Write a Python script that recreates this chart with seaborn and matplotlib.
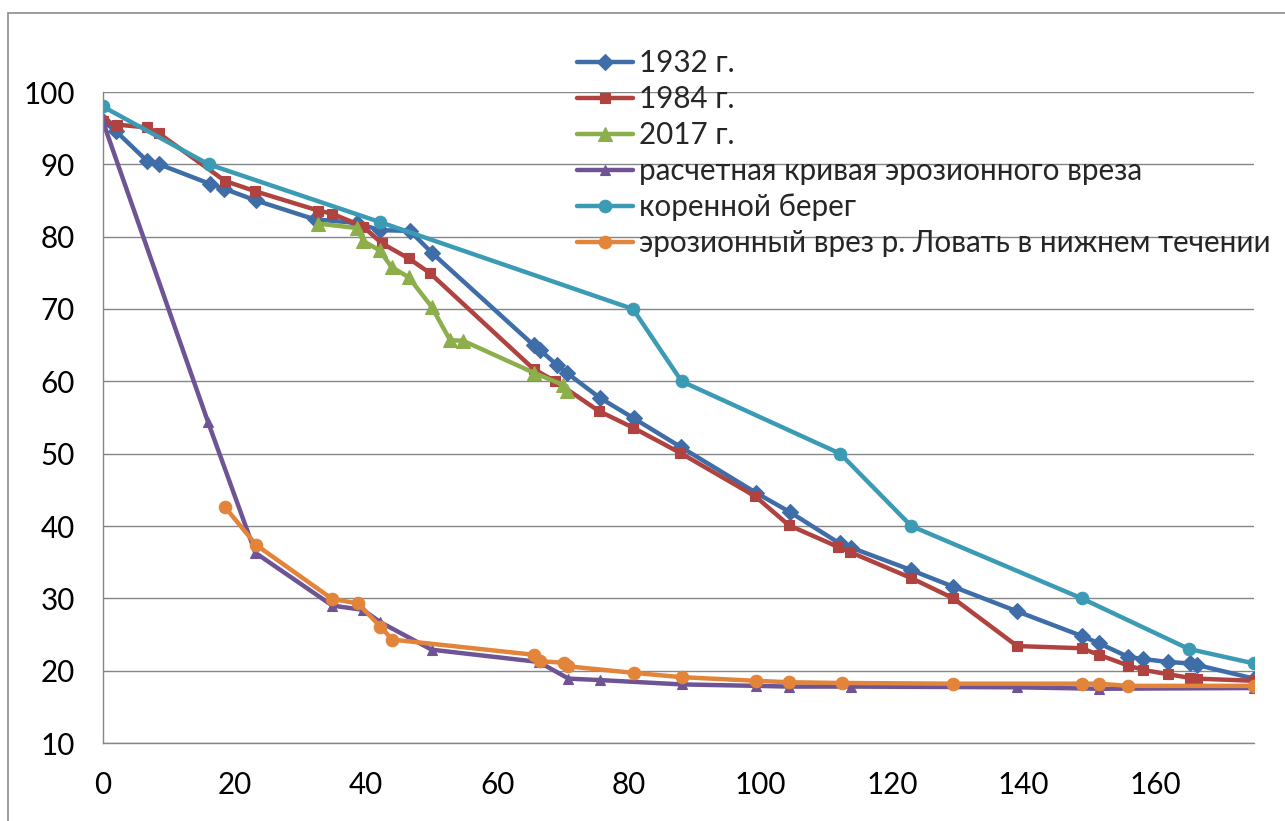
import matplotlib
matplotlib.use("Agg")
import matplotlib.pyplot as plt
import seaborn as sns
from matplotlib.patches import Rectangle

# ---- data ----
x_1932 = [0, 2.0, 6.7, 8.6, 16.3, 18.5, 23.3, 32.2, 38.6, 42.1, 46.7, 50.0, 65.5, 66.5, 69.0, 70.5, 75.6, 80.7, 87.9, 99.3, 104.5, 112.0, 113.8, 122.9, 129.3, 139.0, 148.8, 151.4, 155.9, 158.2, 162.0, 165.3, 166.3, 175.0]
y_1932 = [96.0, 94.6, 90.5, 90.0, 87.3, 86.6, 85.0, 82.4, 81.9, 80.9, 80.8, 77.8, 65.0, 64.3, 62.3, 61.2, 57.7, 54.9, 50.9, 44.6, 41.9, 37.6, 37.0, 33.9, 31.6, 28.2, 24.8, 23.8, 21.9, 21.6, 21.2, 21.0, 20.8, 18.9]

x_1984 = [0, 2.1, 6.7, 8.5, 18.6, 23.1, 32.8, 34.8, 39.6, 42.4, 46.5, 49.7, 65.5, 68.8, 75.4, 80.6, 87.8, 99.2, 104.3, 111.8, 113.6, 122.9, 129.3, 139.0, 148.8, 151.4, 155.9, 158.2, 162.0, 165.3, 166.3, 175.0]
y_1984 = [96.0, 95.5, 95.1, 94.3, 87.7, 86.3, 83.6, 83.2, 81.4, 79.1, 77.0, 75.0, 61.7, 60.0, 55.9, 53.6, 50.1, 44.1, 40.1, 37.1, 36.4, 32.8, 30.0, 23.4, 23.1, 22.2, 20.7, 20.1, 19.5, 19.0, 18.9, 18.6]

x_2017 = [32.8, 38.6, 39.6, 42.1, 43.9, 46.5, 50.0, 52.8, 54.8, 65.5, 70.0, 70.6]
y_2017 = [81.8, 81.2, 79.4, 78.1, 75.8, 74.4, 70.3, 65.7, 65.6, 61.2, 59.5, 58.7]

x_calc = [0, 16.0, 23.2, 34.9, 39.6, 42.2, 50.0, 66.3, 70.8, 75.6, 88.0, 99.3, 104.3, 113.8, 139.0, 151.4, 175.0]
y_calc = [96.0, 54.4, 36.3, 29.0, 28.4, 26.7, 22.9, 21.2, 18.9, 18.7, 18.1, 17.9, 17.8, 17.8, 17.7, 17.5, 17.6]

x_bank = [0, 16.1, 42.2, 80.6, 88.0, 112.1, 122.9, 148.8, 165.1, 175.0]
y_bank = [98, 90, 82, 70, 60, 50, 40, 30, 23, 21]

x_lovat = [18.6, 23.3, 34.9, 38.8, 42.2, 44.0, 65.5, 66.4, 70.1, 70.7, 80.7, 88.0, 99.3, 104.3, 112.3, 129.3, 148.8, 151.4, 155.9, 175.0]
y_lovat = [42.6, 37.4, 29.9, 29.3, 26.1, 24.3, 22.2, 21.3, 21.1, 20.6, 19.7, 19.1, 18.6, 18.4, 18.3, 18.2, 18.2, 18.2, 17.9, 17.9]

labels = ["1932 г.", "1984 г.", "2017 г.",
          "расчетная кривая эрозионного вреза",
          "коренной берег",
          "эрозионный врез р. Ловать в нижнем течении"]
x_ticks = [0, 20, 40, 60, 80, 100, 120, 140, 160]
y_ticks = [10, 20, 30, 40, 50, 60, 70, 80, 90, 100]

series = [(x_1932, y_1932), (x_1984, y_1984), (x_2017, y_2017),
          (x_calc, y_calc), (x_bank, y_bank), (x_lovat, y_lovat)]
colors = ["#3F6DA8", "#B0423F", "#8CAE4B", "#6E5495", "#3C9BB4", "#E2843A"]
markers = ["D", "s", "^", "^", "o", "o"]
msizes = [8.5, 7.5, 10.0, 7.5, 9.0, 9.0]

sns.set_theme(style="white")
plt.rcParams["font.family"] = ["Lato", "DejaVu Sans"]

FS = 21.3

fig = plt.figure(figsize=(12.85, 8.21), dpi=100)
ax = fig.add_axes([102.7 / 1285, 78 / 821, (1254 - 102.7) / 1285, (743 - 92) / 821])

for (xs, ys), c, m, ms, lab in zip(series, colors, markers, msizes, labels):
    sns.lineplot(x=xs, y=ys, ax=ax, color=c, marker=m, markersize=ms,
                 markeredgecolor=c, markerfacecolor=c, markeredgewidth=0.8,
                 linewidth=3.2, label=lab, sort=False, estimator=None)

ax.set_xlim(0, 175)
ax.set_ylim(10, 100)
ax.set_xticks(x_ticks)
ax.set_yticks(y_ticks)
ax.set_xlabel("")
ax.set_ylabel("")

grid_c = "#868686"
ax.yaxis.grid(True, color=grid_c, linewidth=1.0)
ax.xaxis.grid(False)
ax.set_axisbelow(True)
for s in ["top", "right"]:
    ax.spines[s].set_visible(False)
for s in ["left", "bottom"]:
    ax.spines[s].set_color(grid_c)
    ax.spines[s].set_linewidth(1.0)
ax.tick_params(axis="both", direction="out", length=7, width=1.0, color=grid_c,
               labelsize=FS, labelcolor="black")
ax.tick_params(axis="y", pad=13)
ax.tick_params(axis="x", pad=13)

leg = ax.legend(loc="upper left", bbox_to_anchor=(577 / 1285, 1 - 49 / 821),
                bbox_transform=fig.transFigure, frameon=False, fontsize=FS,
                borderpad=0, borderaxespad=0, handlelength=1.9,
                handletextpad=0.2, labelspacing=0.27, numpoints=1)

# chart-area border (extends beyond right and bottom edge)
fig.add_artist(Rectangle((8 / 1285, -0.2), 1.5, 0.2 + (821 - 12.7) / 821,
                         transform=fig.transFigure, fill=False,
                         edgecolor="#8C8C8C", linewidth=1.2, clip_on=False))

fig.savefig("out.png", dpi=100, facecolor="white")
